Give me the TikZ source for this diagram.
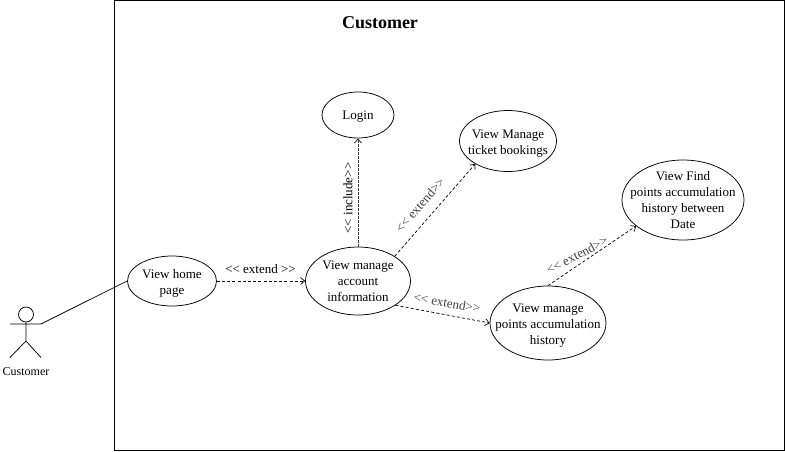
\documentclass[tikz,border=0pt]{standalone}
\usepackage{fontspec}
\setmainfont{Liberation Serif}
\usetikzlibrary{arrows.meta,shapes.geometric}
\newcommand{\ltlt}{{<}{<}}
\newcommand{\gtgt}{{>}{>}}
\newcommand{\dnbox}[1]{\raisebox{-2pt}[\height][\depth]{\begin{tabular}{@{}c@{}}#1\end{tabular}}}
\begin{document}
\begin{tikzpicture}[x=1pt,y=-1pt,
  uc/.style={draw,ellipse,inner sep=-20pt,font=\fontsize{13}{16}\selectfont,align=center,line width=0.75pt,execute at begin node={\rule{0pt}{12.5pt}}},
  ucl/.style={draw,ellipse,inner sep=-20pt,font=\fontsize{13}{16}\selectfont,line width=0.75pt},
  rel/.style={dash pattern=on 3pt off 2.2pt,-{Straight Barb[length=4pt,width=7pt]},line width=0.7pt},
  lab/.style={font=\fontsize{13}{14}\selectfont,text=black!75},
  labk/.style={font=\fontsize{13}{14}\selectfont}]
\useasboundingbox (0,0) rectangle (785,451);
\node[draw,line width=0.75pt,minimum width=670pt,minimum height=450pt,anchor=north west,inner sep=0pt] (sys) at (114,0) {};
\node[font=\bfseries\fontsize{18}{20}\selectfont] (title) at (380,23) {Customer};
\node[uc,minimum width=72pt,minimum height=46pt] (login) at (358,115) {Login};
\node[ucl,minimum width=97pt,minimum height=61pt] (mt) at (508,141) {\dnbox{View Manage\\ticket bookings}};
\node[uc,minimum width=122pt,minimum height=80pt] (find) at (683,200) {View Find\\points accumulation\\history between\\Date};
\node[ucl,minimum width=89pt,minimum height=50pt] (home) at (172,281) {\dnbox{View home\\page}};
\node[uc,minimum width=105pt,minimum height=68pt] (acc) at (358,281) {View manage\\account\\information};
\node[ucl,minimum width=116pt,minimum height=74pt] (pts) at (548,323) {\dnbox{View manage\\points accumulation\\history}};
\node[draw,circle,line width=0.75pt,minimum size=15pt,inner sep=0pt] (head) at (26,314.5) {};
\coordinate (hip) at (26,341);
\coordinate (la) at (10,324);
\coordinate (ra) at (41,324);
\coordinate (ll) at (10,357.5);
\coordinate (rl) at (41,357.5);
\draw[line width=0.75pt] (head.south)--(hip) (la)--(ra) (hip)--(ll) (hip)--(rl);
\node[font=\fontsize{12}{13}\selectfont] (actor) at (26,372) {Customer};
\draw[line width=0.75pt] (ra)--(home.west);
\draw[rel] (home.east)--(acc.west);
\node[labk] (l0) at (260.5,269) {\ltlt{} extend \gtgt};
\draw[rel,line width=0.9pt,dash pattern=on 2.5pt off 1.5pt,black!75] (acc.north)--(login.south);
\draw[rel] (acc.34)--(mt.215);
\draw[rel] (acc.-33)--(pts.west);
\draw[rel] (pts.north)--(find.209);
\node[labk,rotate=90] (l4) at (348,198) {\ltlt{} include\gtgt};
\node[lab,rotate=49] (l2) at (420,205) {\ltlt{} extend\gtgt};
\node[lab,rotate=-10] (l3) at (447,303) {\ltlt{} extend\gtgt};
\node[lab,rotate=28] (l5) at (577,255) {\ltlt{} extend\gtgt};
\end{tikzpicture}
\end{document}
